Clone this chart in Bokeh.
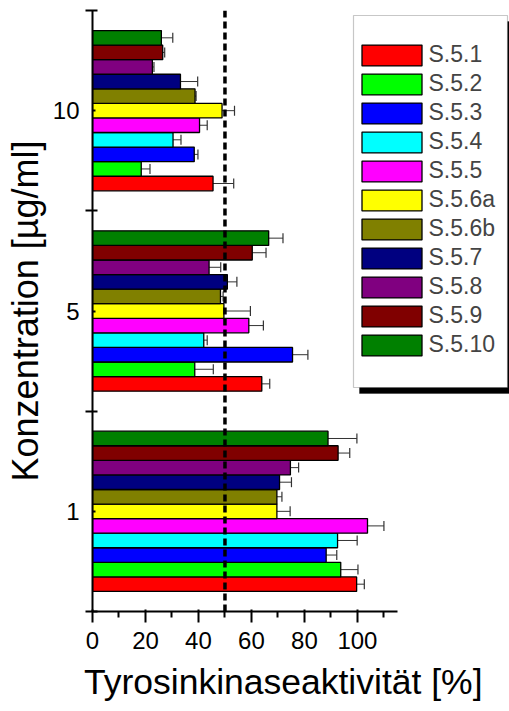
from bokeh.plotting import figure
from bokeh.models import (ColumnDataSource, Range1d, FixedTicker, Span, Whisker,
                          TeeHead, Legend, LegendItem, BoxAnnotation, Title)
from bokeh.embed import file_html
from bokeh.resources import INLINE

# concentration groups (bottom to top) and their tick labels
groups = [1, 2, 3]
group_labels = ["1", "5", "10"]

series = ["S.5.1", "S.5.2", "S.5.3", "S.5.4", "S.5.5", "S.5.6a",
          "S.5.6b", "S.5.7", "S.5.8", "S.5.9", "S.5.10"]
colors = ["#FF0000", "#00FF00", "#0000FF", "#00FFFF", "#FF00FF", "#FFFF00",
          "#808000", "#000080", "#800080", "#800000", "#008000"]

# tyrosine kinase activity [%] per concentration
act_1 = [99.7, 93.7, 88.2, 92.5, 103.8, 69.6, 69.6, 70.6, 74.7, 92.7, 88.9]
act_5 = [63.9, 38.6, 75.5, 42.0, 59.0, 49.6, 48.3, 50.9, 44.0, 60.3, 66.5]
act_10 = [45.5, 18.4, 38.4, 30.4, 40.4, 48.9, 38.7, 33.2, 22.6, 26.5, 26.0]

# standard deviations
err_1 = [2.9, 6.5, 4.0, 7.4, 6.2, 5.0, 1.9, 4.5, 3.1, 4.4, 10.9]
err_5 = [3.0, 7.0, 5.8, 1.3, 5.5, 10.0, 1.0, 3.6, 4.4, 5.2, 5.4]
err_10 = [7.8, 3.3, 1.4, 3.0, 2.9, 4.7, 0.4, 6.5, 0.6, 0.75, 4.3]

threshold = 50

FONT = "Liberation Sans"
n = len(series)
group_span = 0.8
bar_h = group_span / n

p = figure(width=509, height=711, output_backend="svg", toolbar_location=None,
           x_range=Range1d(0, 157.4), y_range=Range1d(0.5, 3.5),
           min_border_left=92, min_border_right=0, min_border_top=10,
           min_border_bottom=100)
p.outline_line_color = None
p.xgrid.visible = False
p.ygrid.visible = False

items = []
for i, name in enumerate(series):
    off = -group_span / 2 + (i + 0.5) * bar_h
    vals = [act_1[i], act_5[i], act_10[i]]
    errs = [err_1[i], err_5[i], err_10[i]]
    src = ColumnDataSource(dict(
        y=[g + off for g in groups],
        right=vals,
        upper=[v + e for v, e in zip(vals, errs)],
    ))
    r = p.hbar(y="y", right="right", left=0, height=bar_h, source=src,
               fill_color=colors[i], line_color="black", line_width=1.3)
    w = Whisker(source=src, base="y", lower="right", upper="upper",
                dimension="width", line_color="#333333", line_width=1,
                lower_head=None,
                upper_head=TeeHead(size=10, line_color="#333333", line_width=1.2))
    p.add_layout(w)
    items.append(LegendItem(label=name, renderers=[r]))

p.add_layout(Span(location=threshold, dimension="height", line_color="black",
                  line_width=3.5, line_dash="7 4"))

# x axis
xa = p.xaxis[0]
xa.bounds = (0, 115)
xa.ticker = FixedTicker(ticks=[0, 20, 40, 60, 80, 100],
                        minor_ticks=[10, 30, 50, 70, 90, 110])
xa.axis_line_width = 2
xa.major_tick_line_width = 2
xa.minor_tick_line_width = 2
xa.major_tick_out = 11
xa.major_tick_in = 2
xa.minor_tick_out = 6
xa.minor_tick_in = 0
xa.major_label_standoff = 9
xa.major_label_text_font = FONT
xa.major_label_text_font_size = "24px"
xa.major_label_text_color = "black"

# x axis title, placed under the tick labels
p.add_layout(Title(text="Tyrosinkinaseaktivität [%]", align="right", offset=27,
                   text_font=FONT, text_font_size="35.5px",
                   text_font_style="normal", text_color="black",
                   standoff=17), "below")

# y axis
ya = p.yaxis[0]
ya.ticker = FixedTicker(ticks=groups, minor_ticks=[0.5, 1.5, 2.5, 3.5])
ya.major_label_overrides = {g: lab for g, lab in zip(groups, group_labels)}
ya.axis_label = "Konzentration [µg/ml]"
ya.axis_line_width = 2
ya.major_tick_line_width = 2
ya.minor_tick_line_width = 2
ya.major_tick_out = 0
ya.major_tick_in = 3
ya.minor_tick_out = 7
ya.minor_tick_in = 5
ya.major_label_standoff = 6
ya.major_label_text_font = FONT
ya.major_label_text_font_size = "24px"
ya.major_label_text_color = "black"
ya.axis_label_text_font = FONT
ya.axis_label_text_font_size = "36px"
ya.axis_label_text_font_style = "normal"
ya.axis_label_text_color = "black"
ya.axis_label_standoff = 4

# legend frame with drop shadow
p.add_layout(BoxAnnotation(left=267, right=423, top=590, bottom=218,
                           left_units="screen", right_units="screen",
                           top_units="screen", bottom_units="screen",
                           fill_color="black", fill_alpha=1, line_color="black"))
p.add_layout(BoxAnnotation(left=261, right=415, top=596, bottom=224,
                           left_units="screen", right_units="screen",
                           top_units="screen", bottom_units="screen",
                           fill_color="white", fill_alpha=1, line_color="#444444",
                           line_width=1.2))

# swatches are drawn with a 10% inset inside the glyph box
legend = Legend(items=items, location=(261.5, 253), orientation="vertical",
                glyph_width=75, glyph_height=26, label_height=21, spacing=2,
                padding=0, margin=0, label_standoff=0,
                label_text_font=FONT, label_text_font_size="23px",
                border_line_alpha=0, background_fill_alpha=0)
p.add_layout(legend)

open("out.html", "w").write(file_html(p, INLINE))
